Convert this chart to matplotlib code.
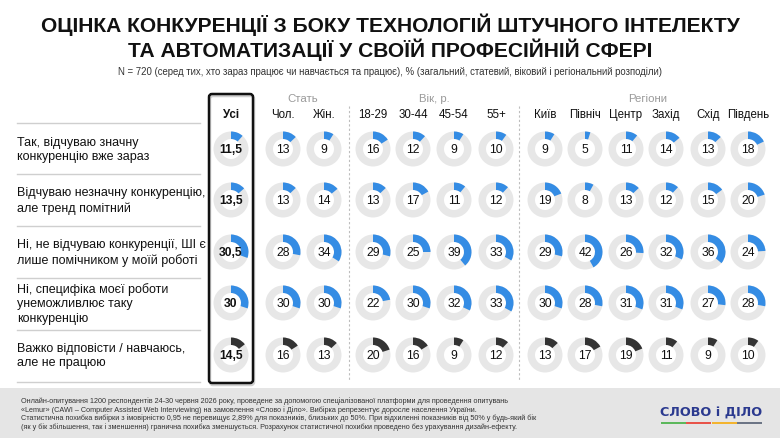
import matplotlib
matplotlib.use("Agg")
import matplotlib.pyplot as plt
from matplotlib.patches import Wedge, FancyBboxPatch, Rectangle
from matplotlib import font_manager as fm

# ---------------- data ----------------
title_lines = ["ОЦІНКА КОНКУРЕНЦІЇ З БОКУ ТЕХНОЛОГІЙ ШТУЧНОГО ІНТЕЛЕКТУ",
               "ТА АВТОМАТИЗАЦІЇ У СВОЇЙ ПРОФЕСІЙНІЙ СФЕРІ"]
subtitle = "N = 720 (серед тих, хто зараз працює чи навчається та працює), % (загальний, статевий, віковий і регіональний розподіли)"

columns = ["Усі", "Чол.", "Жін.", "18-29", "30-44", "45-54", "55+",
           "Київ", "Північ", "Центр", "Захід", "Схід", "Південь"]
groups = ["Стать", "Вік, р.", "Регіони"]

answers = ["Так, відчуваю значну\nконкуренцію вже зараз",
           "Відчуваю незначну конкуренцію,\nале тренд помітний",
           "Ні, не відчуваю конкуренції, ШІ є\nлише помічником у моїй роботі",
           "Ні, специфіка моєї роботи\nунеможливлює таку\nконкуренцію",
           "Важко відповісти / навчаюсь,\nале не працюю"]

row1 = [11.5, 13, 9, 16, 12, 9, 10, 9, 5, 11, 14, 13, 18]
row2 = [13.5, 13, 14, 13, 17, 11, 12, 19, 8, 13, 12, 15, 20]
row3 = [30.5, 28, 34, 29, 25, 39, 33, 29, 42, 26, 32, 36, 24]
row4 = [30, 30, 30, 22, 30, 32, 33, 30, 28, 31, 31, 27, 28]
row5 = [14.5, 16, 13, 20, 16, 9, 12, 13, 17, 19, 11, 9, 10]
values = [row1, row2, row3, row4, row5]

footer = ("Онлайн-опитування 1200 респондентів 24-30 червня 2026 року, проведене за допомогою спеціалізованої платформи для проведення опитувань\n"
          "«Lemur» (CAWI – Computer Assisted Web Interviewing) на замовлення «Слово і Діло». Вибірка репрезентує доросле населення України.\n"
          "Статистична похибка вибірки з імовірністю 0,95 не перевищує 2,89% для показників, близьких до 50%. При відхиленні показників від 50% у будь-який бік\n"
          "(як у бік збільшення, так і зменшення) гранична похибка зменшується. Розрахунок статистичної похибки проведено без урахування дизайн-ефекту.")
logo_text = "СЛОВО і ДІЛО"

# ---------------- style / layout ----------------
names = {f.name for f in fm.fontManager.ttflist}
base = "Liberation Sans" if "Liberation Sans" in names else "DejaVu Sans"
narrow = "Liberation Sans Narrow" if "Liberation Sans Narrow" in names else base
plt.rcParams["font.family"] = [base, "DejaVu Sans"]

W, H = 780, 439
BLUE = "#348ce4"
DARK = "#333333"
RING = "#e7e7e7"

col_x = [231, 283, 324, 373, 413, 454, 496, 545, 585, 626, 666, 708, 748]
row_y = [150, 201, 253, 304, 356]
sep_y = [124, 175, 227, 279, 331, 383]
group_x = [303, 434, 648]
R_OUT, R_W = 17.5, 7.5

fig = plt.figure(figsize=(W / 100, H / 100), dpi=100)
ax = fig.add_axes([0, 0, 1, 1])
ax.set_xlim(0, W)
ax.set_ylim(0, H)
ax.axis("off")

def Y(y):
    return H - y

# title
for ty, line in zip([25, 50], title_lines):
    ax.text(W / 2, Y(ty), line, ha="center", va="center", fontsize=15.1,
            fontweight="bold", family=[narrow, "DejaVu Sans"], color="#111111")
ax.text(W / 2, Y(72), subtitle, ha="center", va="center", fontsize=6.95,
        family=[narrow, "DejaVu Sans"], color="#333333")

# group headers
for gx, g in zip(group_x, groups):
    ax.text(gx, Y(99), g, ha="center", va="center", fontsize=8.2, color="#9a9a9a")

# column headers
for i, (cx, c) in enumerate(zip(col_x, columns)):
    ax.text(cx, Y(115), c, ha="center", va="center", fontsize=8.3,
            fontweight="bold" if i == 0 else "normal", color="#111111")

# separators
for sy in sep_y:
    ax.plot([17, 200], [Y(sy), Y(sy)], color="#cfcfcf", lw=1)
for dx in [349, 519]:
    ax.plot([dx, dx], [Y(107), Y(382)], color="#bdbdbd", lw=0.8,
            linestyle=(0, (2, 2)))

# answer labels
for ry, a in zip(row_y, answers):
    ax.text(17, Y(ry), a, ha="left", va="center", fontsize=9, color="#111111",
            linespacing=1.3)

# donuts
for r, (ry, vals) in enumerate(zip(row_y, values)):
    color = DARK if r == len(values) - 1 else BLUE
    for i, (cx, v) in enumerate(zip(col_x, vals)):
        ax.add_patch(Wedge((cx, Y(ry)), R_OUT, 0, 360, width=R_W,
                           facecolor=RING, edgecolor="none"))
        ax.add_patch(Wedge((cx, Y(ry)), R_OUT, 90 - 360 * v / 100, 90,
                           width=R_W, facecolor=color, edgecolor="none"))
        lab = f"{v:g}".replace(".", ",")
        ax.text(cx, Y(ry), lab, ha="center", va="center", fontsize=8.7,
                fontweight="bold" if i == 0 else "normal", color="#111111")

# highlight box for "Усі" (with a faint shadow)
ax.add_patch(FancyBboxPatch((210, Y(386)), 44, 289,
                            boxstyle="round,pad=0,rounding_size=3",
                            facecolor="none", edgecolor="#d0d0d0", lw=1.8))
ax.add_patch(FancyBboxPatch((209, Y(384)), 44, 289,
                            boxstyle="round,pad=0,rounding_size=3",
                            facecolor="none", edgecolor="#111111", lw=1.8))

# footer
ax.add_patch(Rectangle((0, 0), W, H - 389, facecolor="#e5e5e5", edgecolor="none"))
ax.text(21, Y(414), footer, ha="left", va="center", fontsize=5.25,
        family=[narrow, "DejaVu Sans"], color="#333333", linespacing=1.12)
ax.text(711, Y(413), logo_text, ha="center", va="center", fontsize=9.2,
        fontweight="bold", color="#2b3a8f", family=["DejaVu Sans"])
for x0, c in zip([661, 686, 712, 737], ["#5cb85c", "#e8544a", "#f3b42f", "#6c7585"]):
    ax.add_patch(Rectangle((x0, Y(425)), 25, 1.8, facecolor=c, edgecolor="none"))

fig.savefig("out.png", dpi=100)
